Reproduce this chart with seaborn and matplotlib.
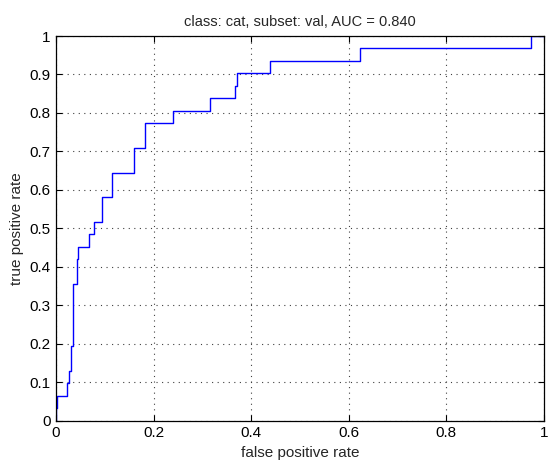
import numpy as np
import pandas as pd
import matplotlib
matplotlib.use("Agg")
import matplotlib.pyplot as plt
import seaborn as sns

# ROC corner points
fpr = [0.0, 0.0, 0.002, 0.022, 0.027, 0.031, 0.034, 0.042, 0.045, 0.068, 0.077,
       0.094, 0.115, 0.160, 0.182, 0.240, 0.316, 0.366, 0.371, 0.438, 0.623, 0.973, 1.0]
tpr = [0.0, 0.032, 0.065, 0.097, 0.129, 0.194, 0.355, 0.419, 0.452, 0.484, 0.516,
       0.581, 0.645, 0.710, 0.774, 0.806, 0.839, 0.871, 0.903, 0.935, 0.968, 1.0, 1.0]

x_ticks = [0, 0.2, 0.4, 0.6, 0.8, 1]
x_labels = ["0", "0.2", "0.4", "0.6", "0.8", "1"]
y_ticks = [0, 0.1, 0.2, 0.3, 0.4, 0.5, 0.6, 0.7, 0.8, 0.9, 1]
y_labels = ["0", "0.1", "0.2", "0.3", "0.4", "0.5", "0.6", "0.7", "0.8", "0.9", "1"]

title = "class: cat, subset: val, AUC = 0.840"

sns.set_theme(style="ticks")
plt.rcParams["font.family"] = ["Liberation Sans", "DejaVu Sans"]
plt.rcParams["xtick.direction"] = "in"
plt.rcParams["ytick.direction"] = "in"

df = pd.DataFrame({"fpr": fpr, "tpr": tpr})

fig = plt.figure(figsize=(5.48, 4.66), dpi=100)
ax = fig.add_axes([0.1022, 0.0976, 0.8905, 0.8251])

sns.lineplot(data=df, x="fpr", y="tpr", ax=ax, estimator=None, sort=False,
             drawstyle="steps-post", color="#0000ff", linewidth=1.0)

ax.set_xlim(0, 1)
ax.set_ylim(0, 1)
ax.set_xticks(x_ticks)
ax.set_xticklabels(x_labels)
ax.set_yticks(y_ticks)
ax.set_yticklabels(y_labels)
ax.grid(True, linestyle=(0, (1, 4)), color="0.25", linewidth=0.8)
ax.tick_params(axis="both", which="both", direction="in", length=4, width=0.8,
               top=True, right=True, labelsize=11, colors="black", pad=4)
for s in ax.spines.values():
    s.set_visible(True)
    s.set_color("black")
    s.set_linewidth(0.9)

ax.set_xlabel("false positive rate", fontsize=11, labelpad=4)
ax.set_ylabel("true positive rate", fontsize=11, labelpad=4)
ax.set_title(title, fontsize=10.5, pad=7)

fig.savefig("out.png", dpi=100, facecolor="white")
